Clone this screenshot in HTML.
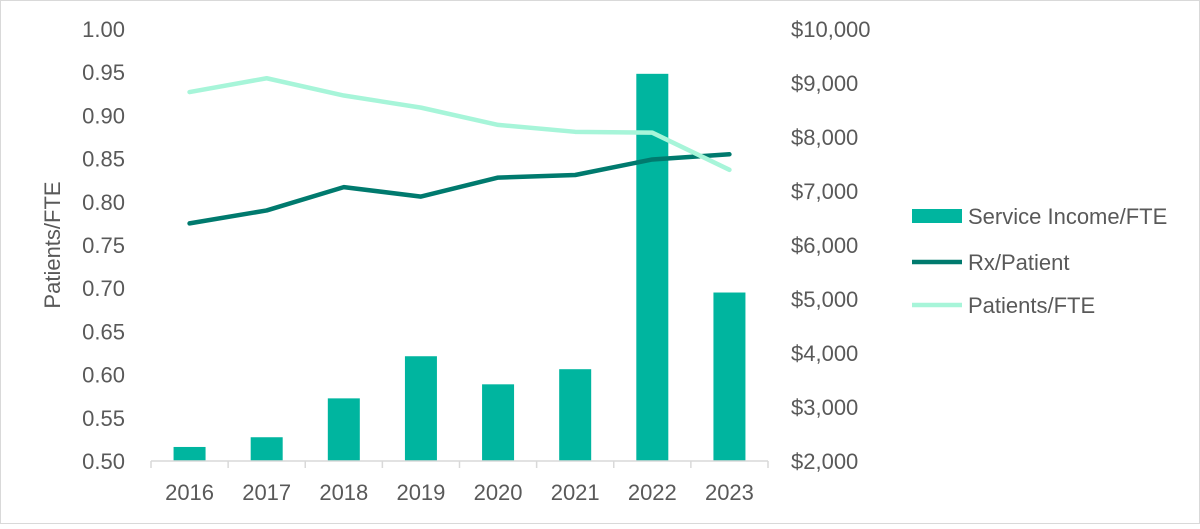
<!DOCTYPE html>
<html><head><meta charset="utf-8"><style>
body{margin:0;background:#fff;font-family:"Liberation Sans",sans-serif}
#wrap{position:relative;width:1200px;height:524px}
svg text{font-family:"Liberation Sans",sans-serif;fill:#595959}
</style></head><body>
<div id="wrap">
<svg id="c" width="1200" height="524">
<rect x="0.5" y="0.5" width="1199" height="523" fill="#fff" stroke="#d9d9d9"/>
</svg>
</div>
<script>
const categories=["2016","2017","2018","2019","2020","2021","2022","2023"];
const serviceIncome=[2260,2440,3160,3940,3420,3700,9170,5120];
const rxPerPatient=[0.775,0.790,0.817,0.806,0.828,0.831,0.849,0.855];
const patientsPerFte=[0.927,0.943,0.923,0.909,0.889,0.881,0.880,0.837];
const leftTicks=[0.50,0.55,0.60,0.65,0.70,0.75,0.80,0.85,0.90,0.95,1.00];
const rightTicks=[2000,3000,4000,5000,6000,7000,8000,9000,10000];
const svg=document.getElementById('c');const NS='http://www.w3.org/2000/svg';
const X0=151,X1=768,YT=29,YB=461;
const band=(X1-X0)/categories.length;
const xc=i=>X0+band*(i+0.5);
const yL=v=>YB-(v-0.5)/0.5*(YB-YT);
const yR=v=>YB-(v-2000)/8000*(YB-YT);
const FS=22;
function mk(t,a,txt){const e=document.createElementNS(NS,t);for(const k in a)e.setAttribute(k,a[k]);if(txt!=null)e.textContent=txt;svg.appendChild(e);return e;}
leftTicks.forEach(v=>{const e=mk('text',{x:125,y:yL(v)+8,'text-anchor':'end','font-size':FS},v.toFixed(2));

});
rightTicks.forEach(v=>{const e=mk('text',{x:791,y:yR(v)+8,'font-size':FS},'$'+v.toLocaleString('en-US'));

});
const yt=mk('text',{x:0,y:0,'font-size':FS,'text-anchor':'middle',transform:'translate(60,245) rotate(-90)'},'Patients/FTE');


serviceIncome.forEach((v,i)=>{const b=mk('rect',{x:xc(i)-16,y:yR(v),width:32,height:YB-yR(v),fill:'#00b59f'});

});
const ax=mk('line',{x1:X0,x2:X1,y1:YB,y2:YB,stroke:'#d9d9d9','stroke-width':1.5});


for(let i=0;i<=categories.length;i++){const t=mk('line',{x1:X0+band*i,x2:X0+band*i,y1:YB,y2:YB+7,stroke:'#d9d9d9','stroke-width':1.5});

}
categories.forEach((c,i)=>{const t=mk('text',{x:xc(i),y:500,'text-anchor':'middle','font-size':FS},c);

});
function line(arr,col,name){const p=mk('polyline',{points:arr.map((v,i)=>xc(i)+','+yL(v)).join(' '),fill:'none',stroke:col,'stroke-width':4.5,'stroke-linejoin':'round','stroke-linecap':'round'});

}
line(rxPerPatient,'#007a6e','rx-per-patient-line');
line(patientsPerFte,'#a7f5d9','patients-per-fte-line');
const leg=[['rect','#00b59f','Service Income/FTE',216],['line','#007a6e','Rx/Patient',262],['line','#a7f5d9','Patients/FTE',305]];
leg.forEach(l=>{let m;if(l[0]=='rect')m=mk('rect',{x:912,y:l[3]-7,width:50,height:14,fill:l[1]});else m=mk('line',{x1:912,x2:962,y1:l[3],y2:l[3],stroke:l[1],'stroke-width':4.5});


const t=mk('text',{x:968,y:l[3]+8,'font-size':FS},l[2]);

});
</script>
</body></html>
